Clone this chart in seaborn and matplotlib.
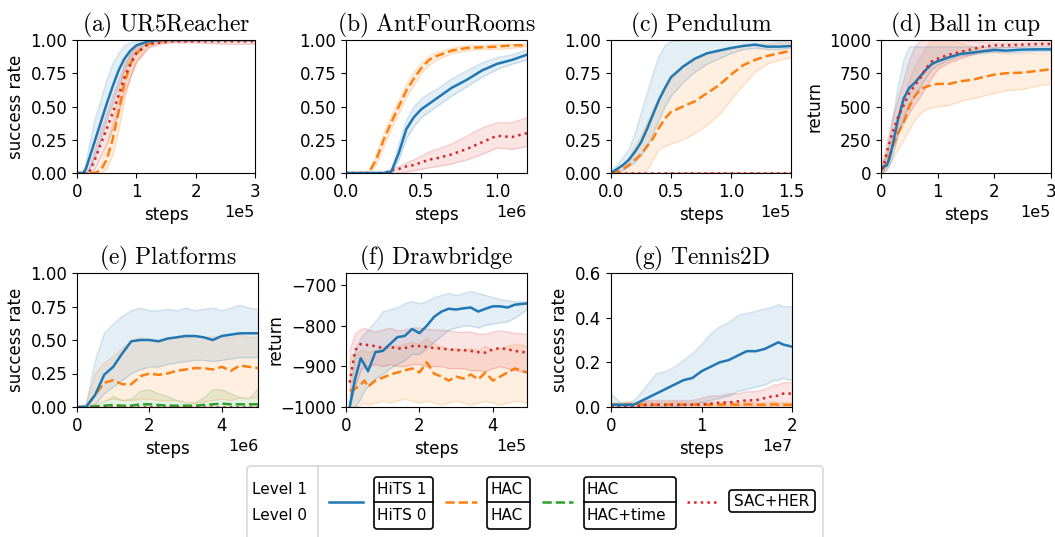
import numpy as np
import pandas as pd
import matplotlib
matplotlib.use("Agg")
import matplotlib.pyplot as plt
import seaborn as sns
from matplotlib.patches import FancyBboxPatch
from matplotlib.lines import Line2D

plt.rcParams['mathtext.fontset'] = 'cm'
plt.rcParams['font.family'] = ['DejaVu Sans']

C_BLUE, C_ORANGE, C_GREEN, C_RED = "#1f77b4", "#ff7f0e", "#2ca02c", "#d62728"

# ---------------- data ----------------
# (a) UR5Reacher, x in 1e5 steps
a_x = [0, 0.1, 0.15, 0.2, 0.25, 0.3, 0.4, 0.5, 0.6, 0.7, 0.8, 0.9, 1.0, 1.2, 1.4, 1.6, 2.0, 2.5, 3.0]
a_hits = [0, 0, 0.03, 0.1, 0.17, 0.24, 0.38, 0.52, 0.65, 0.77, 0.86, 0.92, 0.96, 0.99, 1, 1, 1, 1, 1]
a_hits_lo = [0, 0, 0, 0.02, 0.07, 0.12, 0.25, 0.4, 0.52, 0.65, 0.77, 0.86, 0.92, 0.98, 0.99, 1, 1, 1, 1]
a_hits_hi = [0, 0, 0.08, 0.2, 0.3, 0.4, 0.55, 0.7, 0.82, 0.9, 0.96, 0.98, 0.99, 1, 1, 1, 1, 1, 1]
a_sac = [0, 0, 0, 0, 0.05, 0.1, 0.22, 0.33, 0.45, 0.58, 0.72, 0.82, 0.9, 0.97, 0.98, 0.99, 0.99, 0.99, 0.99]
a_sac_lo = [0, 0, 0, 0, 0, 0.03, 0.12, 0.22, 0.33, 0.45, 0.6, 0.72, 0.83, 0.94, 0.97, 0.98, 0.98, 0.97, 0.97]
a_sac_hi = [0, 0, 0, 0.03, 0.1, 0.18, 0.32, 0.45, 0.58, 0.7, 0.82, 0.9, 0.95, 0.99, 1, 1, 1, 1, 1]
a_hac = [0, 0, 0, 0, 0, 0, 0.02, 0.1, 0.25, 0.46, 0.68, 0.82, 0.9, 0.97, 0.99, 1, 1, 1, 1]
a_hac_lo = [0, 0, 0, 0, 0, 0, 0, 0.03, 0.13, 0.32, 0.55, 0.72, 0.84, 0.95, 0.98, 0.99, 1, 1, 1]
a_hac_hi = [0, 0, 0, 0, 0, 0, 0.06, 0.2, 0.38, 0.6, 0.8, 0.9, 0.95, 0.99, 1, 1, 1, 1, 1]

# (b) AntFourRooms, x in 1e6 steps
b_x = [0, 0.1, 0.15, 0.2, 0.25, 0.3, 0.35, 0.4, 0.45, 0.5, 0.55, 0.6, 0.7, 0.8, 0.9, 1.0, 1.1, 1.2]
b_hac = [0, 0, 0, 0.1, 0.25, 0.38, 0.5, 0.62, 0.71, 0.79, 0.85, 0.88, 0.92, 0.94, 0.945, 0.95, 0.96, 0.96]
b_hac_lo = [0, 0, 0, 0.06, 0.2, 0.33, 0.45, 0.57, 0.66, 0.75, 0.81, 0.85, 0.9, 0.92, 0.93, 0.93, 0.94, 0.95]
b_hac_hi = [0, 0, 0.01, 0.14, 0.3, 0.43, 0.55, 0.67, 0.76, 0.83, 0.88, 0.91, 0.94, 0.96, 0.96, 0.97, 0.97, 0.97]
b_hits = [0, 0, 0, 0, 0, 0.01, 0.15, 0.33, 0.42, 0.48, 0.52, 0.56, 0.64, 0.7, 0.77, 0.82, 0.85, 0.89]
b_hits_lo = [0, 0, 0, 0, 0, 0, 0.1, 0.26, 0.35, 0.42, 0.46, 0.5, 0.58, 0.65, 0.72, 0.78, 0.82, 0.85]
b_hits_hi = [0, 0, 0, 0, 0, 0.02, 0.22, 0.4, 0.5, 0.56, 0.6, 0.63, 0.71, 0.77, 0.83, 0.87, 0.89, 0.93]
b_sac = [0, 0, 0, 0, 0, 0.02, 0.03, 0.05, 0.06, 0.08, 0.1, 0.11, 0.14, 0.18, 0.23, 0.28, 0.27, 0.3]
b_sac_lo = [0, 0, 0, 0, 0, 0, 0, 0.01, 0.02, 0.03, 0.04, 0.05, 0.07, 0.1, 0.14, 0.19, 0.18, 0.2]
b_sac_hi = [0, 0, 0, 0, 0, 0.03, 0.05, 0.08, 0.1, 0.13, 0.16, 0.18, 0.22, 0.28, 0.34, 0.38, 0.38, 0.42]

# (c) Pendulum, x in 1e5 steps
c_x = [0, 0.05, 0.1, 0.15, 0.2, 0.25, 0.3, 0.35, 0.4, 0.45, 0.5, 0.6, 0.7, 0.8, 0.9, 1.0, 1.1, 1.2, 1.3, 1.4, 1.5]
c_hits = [0, 0.03, 0.06, 0.1, 0.16, 0.23, 0.33, 0.44, 0.55, 0.64, 0.72, 0.8, 0.86, 0.9, 0.92, 0.94, 0.955, 0.965, 0.95, 0.95, 0.955]
c_hits_lo = [0, 0, 0.02, 0.05, 0.08, 0.13, 0.2, 0.3, 0.4, 0.5, 0.58, 0.68, 0.76, 0.82, 0.86, 0.9, 0.93, 0.94, 0.93, 0.93, 0.94]
c_hits_hi = [0.02, 0.06, 0.12, 0.18, 0.3, 0.45, 0.6, 0.75, 0.88, 0.96, 0.99, 1, 1, 1, 1, 1, 1, 1, 1, 0.99, 0.99]
c_hac = [0, 0.01, 0.03, 0.06, 0.1, 0.14, 0.2, 0.26, 0.34, 0.41, 0.46, 0.5, 0.54, 0.6, 0.66, 0.74, 0.81, 0.85, 0.88, 0.9, 0.92]
c_hac_lo = [0, 0, 0, 0, 0, 0, 0.02, 0.1, 0.18, 0.2, 0.22, 0.25, 0.3, 0.36, 0.44, 0.55, 0.66, 0.76, 0.82, 0.85, 0.87]
c_hac_hi = [0, 0.03, 0.06, 0.12, 0.2, 0.28, 0.38, 0.48, 0.56, 0.62, 0.7, 0.8, 0.86, 0.9, 0.92, 0.94, 0.96, 0.97, 0.97, 0.98, 0.98]
c_sac = [0] * 21
c_sac_lo = [0] * 21
c_sac_hi = [0, 0, 0, 0, 0, 0, 0, 0, 0, 0, 0.005, 0.005, 0.005, 0.005, 0.005, 0.005, 0.005, 0.005, 0.005, 0.005, 0.005]

# (d) Ball in cup, x in 1e5 steps
d_x = [0, 0.05, 0.1, 0.15, 0.2, 0.3, 0.4, 0.5, 0.6, 0.7, 0.8, 0.9, 1.0, 1.2, 1.4, 1.6, 1.8, 2.0, 2.2, 2.5, 2.8, 3.0]
d_hits = [20, 50, 55, 110, 200, 400, 560, 640, 680, 730, 780, 820, 840, 870, 895, 905, 915, 925, 920, 928, 930, 930]
d_hits_lo = [0, 10, 20, 60, 120, 280, 420, 520, 580, 650, 720, 780, 810, 850, 880, 890, 900, 910, 905, 910, 915, 915]
d_hits_hi = [40, 100, 140, 250, 400, 650, 850, 950, 950, 950, 950, 950, 950, 950, 950, 950, 950, 945, 945, 945, 945, 945]
d_sac = [30, 60, 150, 230, 300, 420, 510, 600, 660, 720, 790, 840, 860, 890, 910, 930, 950, 960, 960, 965, 970, 970]
d_sac_lo = [0, 20, 80, 150, 200, 300, 380, 450, 520, 580, 650, 720, 780, 830, 860, 890, 920, 940, 945, 950, 955, 955]
d_sac_hi = [60, 120, 220, 310, 400, 560, 700, 850, 950, 1000, 1000, 1000, 1000, 1000, 1000, 990, 985, 980, 980, 980, 985, 985]
d_hac = [20, 40, 80, 130, 190, 300, 380, 500, 580, 630, 650, 660, 670, 670, 690, 700, 720, 740, 750, 755, 770, 780]
d_hac_lo = [0, 10, 30, 60, 100, 180, 250, 330, 400, 450, 480, 490, 500, 510, 540, 560, 580, 600, 620, 630, 660, 670]
d_hac_hi = [40, 80, 140, 220, 300, 440, 560, 700, 800, 880, 950, 1000, 1000, 1000, 980, 950, 930, 910, 900, 900, 900, 900]

# (e) Platforms, x in 1e6 steps
e_x = [0, 0.25, 0.5, 0.75, 1.0, 1.25, 1.5, 1.75, 2.0, 2.25, 2.5, 2.75, 3.0, 3.25, 3.5, 3.75, 4.0, 4.25, 4.5, 4.75, 5.0]
e_hits = [0, 0, 0.09, 0.24, 0.3, 0.4, 0.49, 0.5, 0.5, 0.49, 0.51, 0.52, 0.53, 0.53, 0.52, 0.5, 0.53, 0.54, 0.55, 0.55, 0.55]
e_hits_lo = [0, 0, 0.02, 0.1, 0.15, 0.2, 0.25, 0.28, 0.3, 0.3, 0.32, 0.33, 0.34, 0.35, 0.35, 0.34, 0.35, 0.36, 0.37, 0.37, 0.37]
e_hits_hi = [0, 0.02, 0.35, 0.55, 0.62, 0.68, 0.72, 0.74, 0.72, 0.72, 0.73, 0.72, 0.74, 0.72, 0.73, 0.74, 0.72, 0.74, 0.76, 0.74, 0.73]
e_hac = [0, 0, 0.09, 0.18, 0.2, 0.17, 0.17, 0.23, 0.25, 0.24, 0.25, 0.27, 0.28, 0.29, 0.29, 0.28, 0.3, 0.27, 0.31, 0.3, 0.29]
e_hac_lo = [0, 0, 0.02, 0.05, 0.06, 0.05, 0.05, 0.06, 0.06, 0.05, 0.05, 0.05, 0.04, 0.03, 0.04, 0.05, 0.06, 0.05, 0.07, 0.07, 0.07]
e_hac_hi = [0, 0.02, 0.25, 0.33, 0.38, 0.44, 0.5, 0.52, 0.5, 0.5, 0.52, 0.52, 0.52, 0.53, 0.52, 0.53, 0.52, 0.52, 0.54, 0.52, 0.52]
e_time = [0, 0, 0.005, 0.01, 0.015, 0.01, 0.01, 0.02, 0.02, 0.015, 0.01, 0.01, 0.01, 0.01, 0.015, 0.02, 0.025, 0.02, 0.02, 0.02, 0.02]
e_time_lo = [0] * 21
e_time_hi = [0, 0, 0.01, 0.04, 0.08, 0.05, 0.06, 0.12, 0.13, 0.1, 0.08, 0.05, 0.03, 0.03, 0.07, 0.13, 0.13, 0.1, 0.07, 0.06, 0.14]
e_sac = [0] * 21
e_sac_lo = [0] * 21
e_sac_hi = [0] * 21

# (f) Drawbridge, x in 1e5 steps
f_x = [0.1, 0.25, 0.4, 0.5, 0.6, 0.8, 1.0, 1.2, 1.4, 1.6, 1.8, 2.0, 2.2, 2.4, 2.6, 2.8, 3.0, 3.2, 3.4, 3.6, 3.8, 4.0, 4.2, 4.4, 4.6, 4.93]
f_hits = [-1000, -930, -880, -895, -912, -865, -862, -845, -828, -825, -808, -818, -800, -778, -765, -758, -760, -757, -755, -765, -758, -752, -752, -755, -748, -745]
f_hits_lo = [-1000, -1000, -980, -960, -950, -930, -920, -905, -895, -885, -870, -870, -855, -840, -825, -810, -805, -800, -800, -805, -798, -795, -792, -790, -780, -760]
f_hits_hi = [-990, -860, -830, -820, -810, -790, -765, -760, -755, -745, -740, -745, -740, -730, -725, -720, -725, -720, -715, -720, -725, -730, -735, -738, -740, -740]
f_sac = [-940, -860, -845, -845, -848, -850, -855, -852, -856, -855, -850, -850, -852, -855, -856, -858, -860, -860, -862, -865, -866, -858, -855, -858, -862, -866]
f_sac_lo = [-1000, -950, -910, -900, -900, -895, -900, -895, -900, -900, -895, -895, -900, -900, -900, -905, -905, -905, -910, -910, -912, -905, -900, -905, -910, -915]
f_sac_hi = [-860, -820, -810, -805, -810, -815, -810, -805, -812, -810, -805, -805, -808, -810, -810, -812, -815, -815, -815, -820, -820, -815, -812, -815, -818, -820]
f_hac = [-960, -955, -945, -935, -950, -935, -928, -920, -915, -910, -905, -915, -890, -918, -925, -935, -925, -930, -920, -932, -915, -935, -925, -915, -905, -915]
f_hac_lo = [-1000, -1000, -995, -990, -995, -990, -985, -990, -985, -980, -985, -990, -985, -990, -995, -990, -985, -990, -995, -990, -985, -990, -995, -990, -985, -990]
f_hac_hi = [-880, -870, -860, -860, -865, -860, -855, -850, -850, -845, -840, -845, -830, -845, -850, -860, -855, -860, -855, -860, -850, -860, -855, -850, -845, -850]

# (g) Tennis2D, x in 1e7 steps
g_x = [0, 0.1, 0.2, 0.25, 0.3, 0.4, 0.5, 0.6, 0.7, 0.8, 0.9, 1.0, 1.1, 1.2, 1.3, 1.4, 1.5, 1.6, 1.7, 1.8, 1.85, 1.9, 2.0]
g_hits = [0.01, 0.01, 0.01, 0.01, 0.02, 0.04, 0.06, 0.08, 0.1, 0.12, 0.13, 0.16, 0.18, 0.2, 0.21, 0.23, 0.25, 0.25, 0.26, 0.28, 0.29, 0.28, 0.27]
g_hits_lo = [0, 0, 0, 0, 0, 0, 0, 0, 0, 0.01, 0.01, 0.02, 0.03, 0.04, 0.05, 0.07, 0.08, 0.09, 0.1, 0.12, 0.12, 0.13, 0.12]
g_hits_hi = [0.06, 0.02, 0.02, 0.03, 0.05, 0.1, 0.15, 0.16, 0.18, 0.21, 0.24, 0.28, 0.33, 0.36, 0.38, 0.41, 0.42, 0.43, 0.44, 0.45, 0.46, 0.45, 0.45]
g_sac = [0.005, 0.005, 0.005, 0.005, 0.005, 0.01, 0.01, 0.01, 0.01, 0.01, 0.01, 0.01, 0.015, 0.02, 0.02, 0.025, 0.03, 0.03, 0.04, 0.05, 0.05, 0.06, 0.06]
g_sac_lo = [0] * 23
g_sac_hi = [0.01, 0.01, 0.01, 0.01, 0.02, 0.03, 0.03, 0.03, 0.03, 0.03, 0.03, 0.04, 0.05, 0.05, 0.06, 0.06, 0.07, 0.07, 0.08, 0.1, 0.1, 0.11, 0.11]
g_hac = [0.01, 0.01, 0.012, 0.01, 0.01, 0.012, 0.01, 0.01, 0.012, 0.01, 0.01, 0.012, 0.01, 0.01, 0.012, 0.01, 0.012, 0.01, 0.01, 0.012, 0.01, 0.01, 0.01]
g_hac_lo = [0] * 23
g_hac_hi = [0.02, 0.02, 0.025, 0.02, 0.02, 0.025, 0.02, 0.02, 0.025, 0.02, 0.02, 0.025, 0.02, 0.02, 0.025, 0.02, 0.025, 0.02, 0.02, 0.025, 0.02, 0.02, 0.02]

titles = ["(a)\\ UR5Reacher", "(b)\\ AntFourRooms", "(c)\\ Pendulum", "(d)\\ Ball\\ in\\ cup",
          "(e)\\ Platforms", "(f)\\ Drawbridge", "(g)\\ Tennis2D"]
ylabels = ["success rate", "", "", "return", "success rate", "return", "success rate"]

STY = {"hits": (C_BLUE, "-"), "hac": (C_ORANGE, (0, (3.7, 1.6))), "time": (C_GREEN, (0, (3.7, 1.6))),
       "sac": (C_RED, (0, (1, 1.65)))}

panels = [
    dict(x=a_x, scale=1e5, xlim=(0, 3e5), ylim=(0, 1), xt=[0, 1e5, 2e5, 3e5], yt=[0, 0.25, 0.5, 0.75, 1.0], yfmt="{:.2f}",
         series=[("hac", a_hac, a_hac_lo, a_hac_hi), ("sac", a_sac, a_sac_lo, a_sac_hi), ("hits", a_hits, a_hits_lo, a_hits_hi)]),
    dict(x=b_x, scale=1e6, xlim=(0, 1.2e6), ylim=(0, 1), xt=[0, 0.5e6, 1.0e6], yt=[0, 0.25, 0.5, 0.75, 1.0], yfmt="{:.2f}",
         series=[("sac", b_sac, b_sac_lo, b_sac_hi), ("hac", b_hac, b_hac_lo, b_hac_hi), ("hits", b_hits, b_hits_lo, b_hits_hi)]),
    dict(x=c_x, scale=1e5, xlim=(0, 1.5e5), ylim=(0, 1), xt=[0, 0.5e5, 1.0e5, 1.5e5], yt=[0, 0.25, 0.5, 0.75, 1.0], yfmt="{:.2f}",
         series=[("hac", c_hac, c_hac_lo, c_hac_hi), ("hits", c_hits, c_hits_lo, c_hits_hi), ("sac", c_sac, c_sac_lo, c_sac_hi)]),
    dict(x=d_x, scale=1e5, xlim=(0, 3e5), ylim=(0, 1000), xt=[0, 1e5, 2e5, 3e5], yt=[0, 250, 500, 750, 1000], yfmt="{:.0f}",
         series=[("hac", d_hac, d_hac_lo, d_hac_hi), ("hits", d_hits, d_hits_lo, d_hits_hi), ("sac", d_sac, d_sac_lo, d_sac_hi)]),
    dict(x=e_x, scale=1e6, xlim=(0, 5e6), ylim=(0, 1), xt=[0, 2e6, 4e6], yt=[0, 0.25, 0.5, 0.75, 1.0], yfmt="{:.2f}",
         series=[("time", e_time, e_time_lo, e_time_hi), ("sac", e_sac, e_sac_lo, e_sac_hi), ("hac", e_hac, e_hac_lo, e_hac_hi), ("hits", e_hits, e_hits_lo, e_hits_hi)]),
    dict(x=f_x, scale=1e5, xlim=(0, 4.93e5), ylim=(-1000, -670), xt=[0, 2e5, 4e5], yt=[-1000, -900, -800, -700], yfmt="{:.0f}",
         series=[("hac", f_hac, f_hac_lo, f_hac_hi), ("sac", f_sac, f_sac_lo, f_sac_hi), ("hits", f_hits, f_hits_lo, f_hits_hi)]),
    dict(x=g_x, scale=1e7, xlim=(0, 2e7), ylim=(0, 0.6), xt=[0, 1e7, 2e7], yt=[0, 0.2, 0.4, 0.6], yfmt="{:.1f}",
         series=[("hac", g_hac, g_hac_lo, g_hac_hi), ("sac", g_sac, g_sac_lo, g_sac_hi), ("hits", g_hits, g_hits_lo, g_hits_hi)]),
]

# axes boxes in pixels: (left, top, right, bottom)
W, H = 1055, 537
boxes = [(77, 40, 255, 173), (346, 40, 527, 173), (611, 40, 791, 173), (881, 40, 1051, 173),
         (77, 273, 258, 407), (346, 273, 527, 407), (611, 273, 792, 407)]
label_x = [None, None, None, -0.34, None, -0.34, None]

fig = plt.figure(figsize=(W / 100, H / 100), dpi=100)


def make_fmt(f):
    return matplotlib.ticker.FuncFormatter(lambda v, pos: f.format(v).replace("-", "\u2212"))


for i, (p, b) in enumerate(zip(panels, boxes)):
    l, t, r, btm = b
    ax = fig.add_axes([l / W, (H - btm) / H, (r - l) / W, (btm - t) / H])
    xs = np.array(p["x"]) * p["scale"]
    for key, m, lo, hi in p["series"]:
        col, ls = STY[key]
        ax.fill_between(xs, lo, hi, color=col, alpha=0.12, lw=0.8)
        ax.plot(xs, lo, color=col, alpha=0.12, lw=0.8)
        ax.plot(xs, hi, color=col, alpha=0.12, lw=0.8)
        df = pd.DataFrame({"x": xs, "y": m})
        sns.lineplot(data=df, x="x", y="y", ax=ax, color=col, linestyle=ls, lw=1.8, estimator=None)
    ax.set_xlim(*p["xlim"])
    ax.set_ylim(*p["ylim"])
    ax.set_xticks(p["xt"])
    ax.set_yticks(p["yt"])
    ax.yaxis.set_major_formatter(make_fmt(p["yfmt"]))
    ax.ticklabel_format(axis="x", style="sci", scilimits=(0, 0))
    ax.tick_params(labelsize=12)
    ax.xaxis.get_offset_text().set_fontsize(11.5)
    ax.set_xlabel("steps", fontsize=12)
    ax.set_ylabel(ylabels[i], fontsize=12)
    if label_x[i] is not None:
        ax.yaxis.set_label_coords(label_x[i], 0.5)
    ax.set_title("$\\mathrm{" + titles[i] + "}$", fontsize=17)

# ---------------- legend (drawn in pixel coordinates) ----------------
lax = fig.add_axes([0, 0, 1, 1], zorder=10)
lax.set_xlim(0, W)
lax.set_ylim(H, 0)
lax.axis("off")
lax.add_patch(FancyBboxPatch((247, 466), 576, 80, boxstyle="round,pad=0,rounding_size=4",
                             ec="#d8d8d8", fc="white", lw=1.2))
lax.add_line(Line2D([318, 318], [466, 537], color="#d8d8d8", lw=1.2))
lax.text(252, 490, "Level 1", fontsize=11, va="center", ha="left")
lax.text(252, 516, "Level 0", fontsize=11, va="center", ha="left")

handles = [(329, 363, "hits"), (445, 477, "hac"), (542, 573, "time"), (687, 718, "sac")]
for x0, x1, key in handles:
    col, ls = STY[key]
    lax.add_line(Line2D([x0, x1], [502, 502], color=col, linestyle=ls, lw=1.8))

two_boxes = [(374, 433, "HiTS 1", "HiTS 0"), (487, 530, "HAC", "HAC"), (584, 676, "HAC", "HAC+time")]
for x0, x1, top, bot in two_boxes:
    lax.add_patch(FancyBboxPatch((x0, 477), x1 - x0, 52, boxstyle="round,pad=0,rounding_size=3",
                                 ec="black", fc="white", lw=1.2))
    lax.add_line(Line2D([x0, x1], [502, 502], color="black", lw=1.2))
    lax.text(x0 + 3, 490, top, fontsize=11, va="center", ha="left")
    lax.text(x0 + 3, 516, bot, fontsize=11, va="center", ha="left")
lax.add_patch(FancyBboxPatch((729, 490), 86, 22, boxstyle="round,pad=0,rounding_size=3",
                             ec="black", fc="white", lw=1.2))
lax.text(772, 501.5, "SAC+HER", fontsize=11, va="center", ha="center")

fig.savefig("out.png", dpi=100)
